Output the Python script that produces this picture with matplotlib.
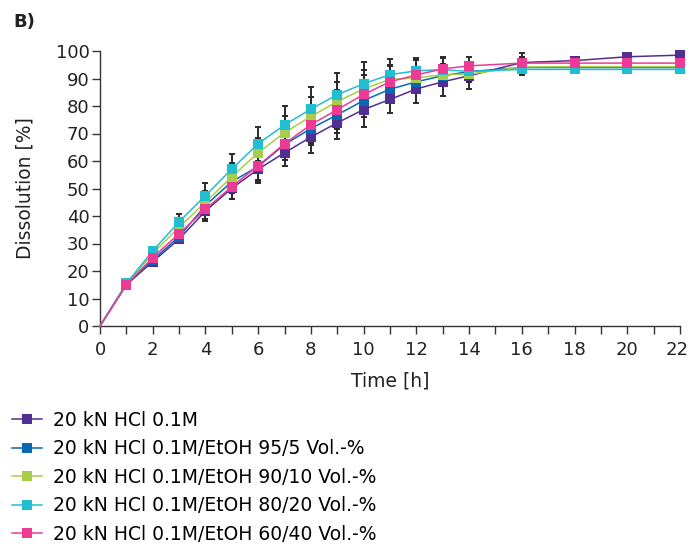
import matplotlib
matplotlib.use("Agg")
import matplotlib.pyplot as plt
import matplotlib.transforms as mtransforms
import numpy as np

plt.rcParams['font.family'] = ['DejaVu Sans']

times = [0, 1, 2, 3, 4, 5, 6, 7, 8, 9, 10, 11, 12, 13, 14, 16, 18, 20, 22]

labels = [
    "20 kN HCl 0.1M",
    "20 kN HCl 0.1M/EtOH 95/5 Vol.-%",
    "20 kN HCl 0.1M/EtOH 90/10 Vol.-%",
    "20 kN HCl 0.1M/EtOH 80/20 Vol.-%",
    "20 kN HCl 0.1M/EtOH 60/40 Vol.-%",
]

hcl = [0, 15.0, 23.4, 31.6, 41.8, 50.1, 57.0, 63.0, 68.7, 73.9, 78.7, 82.4, 86.2, 88.8, 91.0, 95.8, 96.5, 97.9, 98.5]
etoh_5 = [0, 15.0, 24.0, 32.5, 43.8, 52.5, 58.0, 66.0, 71.8, 76.8, 82.0, 86.1, 88.8, 91.0, 92.5, 94.0, 94.0, 94.0, 94.0]
etoh_10 = [0, 15.2, 26.4, 35.9, 45.0, 54.3, 63.0, 70.3, 76.2, 81.6, 86.2, 89.7, 90.2, 91.4, 91.6, 94.2, 94.3, 94.3, 94.3]
etoh_20 = [0, 15.5, 27.3, 37.9, 47.4, 57.1, 66.3, 73.1, 78.9, 84.1, 88.1, 91.4, 92.8, 93.2, 92.6, 93.3, 93.3, 93.3, 93.3]
etoh_40 = [0, 15.0, 24.9, 33.6, 42.5, 50.7, 58.3, 66.3, 73.2, 78.7, 84.2, 88.8, 91.3, 93.5, 94.6, 95.6, 95.6, 95.6, 95.6]

sd_hcl = [0, 0.5, 1.0, 1.5, 3.5, 4.0, 5.0, 4.8, 5.7, 6.0, 6.5, 5.0, 5.2, 5.2, 4.8, 2.0, 1.0, 1.0, 1.0]
sd_5 = [0, 0.5, 1.0, 1.5, 3.0, 4.0, 5.0, 5.5, 6.0, 6.5, 6.0, 5.0, 4.0, 3.0, 3.0, 2.0, 1.0, 1.0, 1.0]
sd_10 = [0, 0.5, 1.0, 2.0, 4.0, 5.0, 5.5, 6.0, 7.0, 7.0, 7.0, 5.0, 4.0, 4.0, 3.0, 2.0, 1.0, 1.0, 1.0]
sd_20 = [0, 0.5, 1.0, 2.7, 4.5, 5.4, 6.2, 7.0, 8.0, 7.8, 7.8, 5.8, 4.8, 4.4, 3.4, 1.9, 1.0, 1.0, 1.0]
sd_40 = [0, 0.5, 1.0, 2.0, 3.5, 4.5, 5.5, 6.0, 6.5, 7.0, 7.0, 6.0, 5.5, 4.4, 3.3, 3.6, 1.0, 1.0, 1.0]

colors = ["#512E92", "#0868B2", "#A6CE48", "#22BDD0", "#EC3A95"]

series = [hcl, etoh_5, etoh_10, etoh_20, etoh_40]
sds = [sd_hcl, sd_5, sd_10, sd_20, sd_40]

fig = plt.figure(figsize=(6.89, 5.44), dpi=100)
ax = fig.add_axes([100/689, 1-326/544, 580/689, 275/544])

# error bars first (behind)
for y, sd in zip(series, sds):
    ax.errorbar(times, y, yerr=sd, fmt='none', ecolor='#2a2a2a', elinewidth=1.4,
                capsize=2.0, capthick=1.4, zorder=1, clip_on=False,
                errorevery=(1, 1))

handles = []
for y, c, lab in zip(series, colors, labels):
    h, = ax.plot(times, y, color=c, lw=1.1, marker='s', markersize=7.5,
                 markeredgewidth=0, label=lab, zorder=3, clip_on=False,
                 markevery=list(range(1, len(times))))
    handles.append(h)

ax.set_xlim(0, 22)
ax.set_ylim(0, 100)
ax.set_xticks(range(0, 23, 2))
ax.set_xticks(range(1, 23, 2), minor=True)
ax.set_yticks(range(0, 101, 10))

for s in ['top', 'right']:
    ax.spines[s].set_visible(False)
for s in ['left', 'bottom']:
    ax.spines[s].set_color('#333333')
    ax.spines[s].set_linewidth(1.0)

ax.tick_params(axis='both', which='both', direction='out', length=5.5, width=1.0,
               color='#333333', labelsize=13, labelcolor='#222222')
ax.tick_params(axis='x', which='both', pad=5)
ax.tick_params(axis='y', pad=2)

# nudge last x tick label slightly left so it stays inside the figure
last = ax.get_xticklabels()[-1]
last.set_transform(last.get_transform() +
                   mtransforms.ScaledTranslation(-3/100, 0, fig.dpi_scale_trans))

ax.set_xlabel("Time [h]", fontsize=13.5, color='#222222', labelpad=9)
ax.set_ylabel("Dissolution [%]", fontsize=13.5, color='#222222', labelpad=15)

fig.text(13/689, 1-22/544, "B)", fontsize=13, fontweight='bold', color='#222222',
         ha='left', va='center')

fig.legend(handles=handles, labels=labels, loc='upper left',
           bbox_to_anchor=(12/689, 1-411/544), frameon=False, fontsize=13.5,
           handlelength=1.6, handletextpad=0.6, labelspacing=0.5,
           markerscale=0.9, borderaxespad=0, borderpad=0)

fig.savefig("out.png", dpi=100)
